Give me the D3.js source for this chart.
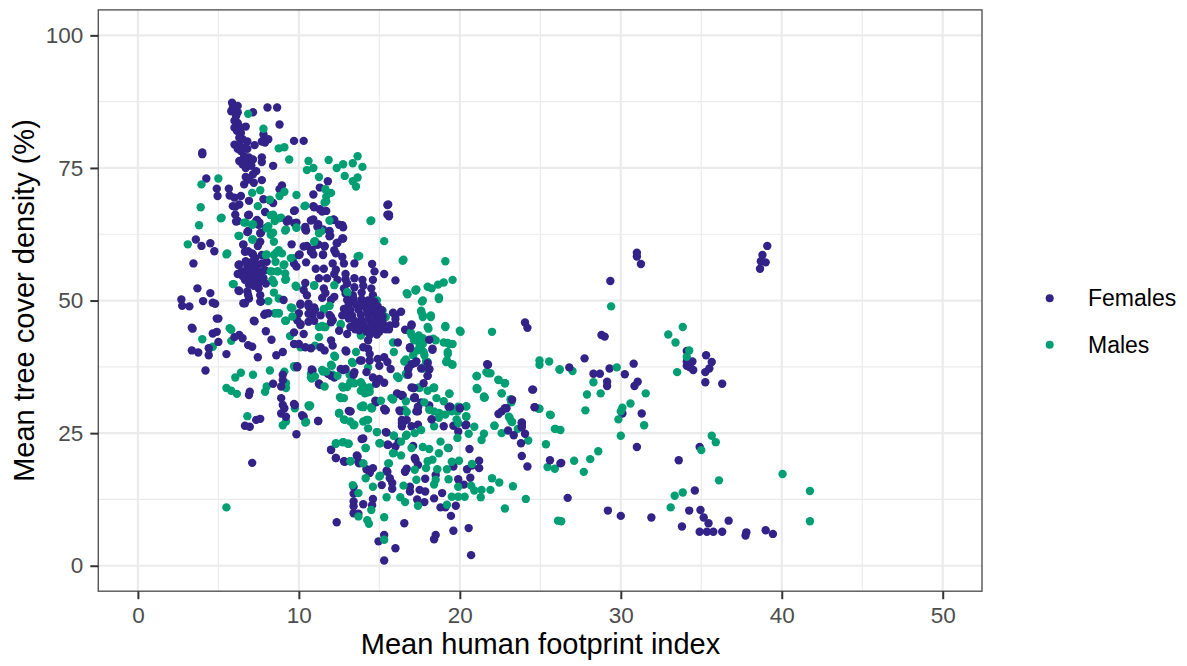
<!DOCTYPE html>
<html><head><meta charset="utf-8">
<script src="https://cdn.jsdelivr.net/npm/d3@7"></script>
<style>html,body{margin:0;padding:0;background:#fff}svg{display:block}text{font-family:"Liberation Sans",Arial,sans-serif}</style>
</head><body><svg id="c" width="1187" height="666"></svg>
<script>
const xTicks=[0,10,20,30,40,50], yTicks=[0,25,50,75,100];
const xMinor=[5,15,25,35,45], yMinor=[12.5,37.5,62.5,87.5];
const legendLabels=["Females","Males"];
const xTitle="Mean human footprint index", yTitle="Mean tree cover density (%)";
const females=[[5.85,87.3],[6.2,86.7],[5.9,86.4],[6,85.7],[5.8,85.7],[6.2,85.5],[6.1,84.8],[6,83.9],[6.2,83.5],[6.3,82.8],[6.7,82.8],[6,82.6],[6.15,82],[6.4,81.6],[6.3,80.7],[6.5,80.4],[6,79.4],[6.3,79.4],[6.8,80],[6.2,78.6],[6.5,78.8],[6.4,78.2],[6.8,78.6],[7.25,79.3],[6.9,77],[6.6,77.2],[6.3,76.3],[6.5,75.7],[6.8,76.3],[7.15,76.6],[6.7,75],[7.05,75.4],[7.35,74.4],[7.15,73.8],[6.7,73.3],[6.9,72.8],[6.6,71.9],[7.2,72.2],[7.7,77],[7.7,76.1],[8.4,75.4],[7.7,72.7],[8.05,86.4],[8.65,86.4],[7.15,85.5],[8.8,83.2],[9.7,80.1],[10.3,80.1],[7.8,81.3],[8.1,80.4],[7.9,79.8],[7.7,80],[4,77.6],[4,77.9],[4.25,73],[4.9,71.1],[4.95,69.7],[5.65,71.1],[5.7,69.8],[6,69.4],[6.4,69.7],[6.9,68.8],[5.9,67.8],[6.3,68.1],[6.05,66.2],[6.2,65],[6.9,66.2],[7.35,65],[7.9,66.7],[7.8,69.1],[8.2,68.9],[8.4,68.4],[8.95,71.7],[8.8,71],[9.75,67],[11.8,72.5],[11.3,71.3],[10.9,70],[10.9,67.8],[11.3,67.2],[11.7,66.9],[12.15,65.3],[12.7,64.2],[15.55,68.1],[15.6,66.2],[15.6,65.9],[9.35,65.3],[9.85,64.7],[10.4,63.4],[10.9,65.3],[11.2,64.4],[11.5,63.4],[11.9,63.1],[11.95,62.2],[12.75,61.7],[12.35,60.8],[11.2,60.6],[10.5,60.3],[10.8,59.6],[10.9,58.7],[11.6,60.3],[11.5,58.7],[10.05,58.7],[9.55,60.6],[7.55,64.7],[7.95,63.7],[7.65,62.8],[6.85,63.1],[7.45,60.3],[6.55,60.6],[3.6,61.5],[3.95,60.3],[4.5,60.8],[4.75,59.3],[3.45,57],[6.3,56.8],[6.85,59.3],[7.15,58.7],[7.25,57.1],
[6.05,67.7],[6.85,66.1],[6.1,64.9],[7.4,65.2],[7.5,64.3],[6.8,62.9],[7.6,62.7],[7.6,61.1],[6.55,60.5],[6.65,59.2],[7.1,58.9],[7.7,58.6],[6.25,56.7],[6.45,55.5],[6.8,56.4],[7.1,57.3],[7.4,56.7],[7.7,57],[6.9,55.1],[7.3,55.5],[7.7,55.5],[6.65,53.9],[7.1,53.9],[7.5,53.3],[7.8,54.2],[6.25,51.9],[6.8,51.7],[6.9,50.4],[6.55,49.5],[7.6,51],[7.6,49.8],[7,54.8],[6.6,55],[7.45,54.5],[7.2,52.8],[6.9,53],[6.7,57.4],[7.3,58],[7.9,55.7],[8,57.3],[6.5,54.6],[6.2,55],[7.1,56.1],[7.5,52.3],[7.95,53.2],[9.7,66.9],[9.25,64.9],[9.7,64.6],[10.4,63.9],[10.45,63.2],[10.95,67.6],[11.45,66.8],[12.2,65.2],[12.5,64.3],[12.75,63.8],[10.75,65.1],[11.15,63.9],[11.9,63],[11.9,62.1],[12.7,61.7],[12.4,60.9],[12.2,59.5],[12.3,58.9],[10.3,60.2],[10.75,59.2],[11.15,60.5],[11.6,60.2],[11.5,58.6],[10,58.6],[10.45,57.2],[9.7,57],[9.85,56.4],[11.05,56],[11.55,56],[12.1,57],[12.7,58.2],[12.3,55.8],[12.8,57],[13.45,57],[14.55,56.9],[12.9,55],[11.25,54.2],[11.75,54.2],[12.4,53.9],[13.45,54.2],[13.95,53.9],[14.7,55.5],[15.3,55],[14.6,53.9],[16,53.8],[10.4,53.3],[10.3,52],[10.5,51],[11.55,52.3],[11.65,51.4],[11.45,50.5],[12.2,50.7],[12,50.1],[12.8,52.3],[13.45,52.5],[13.35,51],[14.5,52.3],[14.6,51],[9.05,50.1],[10.1,49.2],[10.6,48.9],[11,48.2],[10,47.6],[9.9,46.3],[10.1,45.4],[10.85,47.3],[10.6,46],[11.9,47.3],[12.1,46.3],[7.9,47.5],[7.2,46.2],[5,46.6],[15.5,68],[15.5,66.2],[16,46.5],[15.65,45.3],[16.6,44.5],[12.9,54],[13,53.2],[12.2,55],[12.9,51.3],[14,52.8],[13.9,51.5],
[3.7,52.3],[4.5,51.4],[2.7,50.2],[4.05,49.9],[2.75,49],[3.2,48.9],[4.65,49.6],[4.8,49.4],[4.9,46.6],[3.35,44.9],[3.4,44.7],[4.65,43.8],[4.9,44.1],[5,42.2],[3.35,40.6],[3.75,40.2],[4.4,41],[4.4,39.7],[5.5,39.9],[6.3,43.5],[6,43.1],[6.5,42.9],[6.85,41.6],[7.1,41.3],[7.45,39.3],[4.2,36.8],[7.95,44.2],[8.3,42.6],[8.6,39.7],[9,40.3],[7.25,46.1],[7.85,47.3],[8.1,47.6],[6.65,49.5],[6.85,51],[6.3,51.8],[7.65,49.8],[9,36],[9,35],[8.9,33.8],[8.4,34.3],[6.95,32.8],[6.9,32.2],[8.9,31.6],[9,30.3],[9.1,29.7],[9.75,30.3],[8.9,28.7],[9.2,28.1],[10.25,28.2],[11.2,27.3],[6.65,26.4],[6.95,26.2],[7.35,27.5],[7.6,27.7],[9.85,24.8],[7.1,19.4],[9.9,37.4],[10.85,36.8],[11.3,34.1],[12.95,40.4],[12.75,36.9],[12,35.8],[13.4,36],[13.9,38.7],[14.85,35],[15.3,34.5],[13.2,29.1],[14.8,30.8],[15.4,29.3],[14,24],[15.45,25.1],[15.55,22.8],[12,21.8],[12.3,20.3],[12.85,19.6],[13.65,20.6],[13.75,19.3],[14.45,18],[15.5,17.7],[16.6,17.7],[17.25,20],[16.4,26.9],
[10.1,49.4],[10.6,49.4],[10.95,48.7],[10.6,47.5],[10.1,45.6],[9.7,44],[10.3,43.7],[10.95,46.2],[11.35,47.2],[12,46.9],[12,45.9],[12.8,48.4],[12.7,47.2],[12.5,44.3],[13,43.7],[13.2,45],[12,42.5],[12.1,41.5],[11.35,41.2],[11.6,40.6],[10.75,41],[10.4,41.2],[10,41.8],[9.7,41.8],[12.9,40.6],[14.3,42.5],[14.3,40.9],[14,41.2],[14.4,39.9],[13.8,38.7],[14.4,38.7],[14.9,39],[15.3,39.3],[15.5,38.4],[15.7,37.1],[15,37.7],[14.2,36.5],[14.6,35.5],[15,35.2],[14.8,34.3],[12.6,37.1],[12.9,37.1],[11.8,36.2],[12.2,35.5],[13.45,36.5],[10.8,37],[9.9,37.6],[11.25,34.3],[15.6,44.6],[15.4,44.6],[16,47.2],[16.35,47.9],[16,45.6],[17,45.5],[16.15,42.1],[16.9,41.2],[18.3,40.9],[17.3,38.5],[17,38],[16.8,37.1],[18,35.8],[21.7,38],[18.1,37.1],[16.15,32.4],[16.45,32.1],[17,33.6],[17.2,31.8],[17.6,30.8],[17.4,29.9],[18.1,30.2],[19.4,29.6],[20,29.9],[14.75,31.1],[15.3,29.6],[13.1,29.2],[10.2,28.4],[9.7,30.5],[16.25,29.3],
[11.25,34.3],[10.3,28.1],[11.2,27.3],[13.2,29.1],[14.8,31],[15.35,29.3],[16.3,29.1],[16.1,32.5],[16.4,32],[17.1,33.5],[17.2,31.6],[17.4,30],[17.4,29.1],[18.25,27.6],[16.4,27.5],[16.7,27.5],[16.4,26.3],[17,26.3],[17.4,26.6],[19,26.3],[19.6,26.4],[20.4,26.6],[19.9,25.3],[19.3,30],[20,29.7],[15.4,25.2],[13.9,23.9],[15.5,22.8],[16.2,23.4],[16,22.5],[12,21.9],[12.3,20.3],[12.8,19.7],[13.6,20.8],[13.7,19.5],[14.2,18.2],[14.6,18.4],[14.4,17.5],[15.45,17.9],[15.65,16.5],[15.8,15.6],[15.8,14.5],[15.15,15.2],[17.2,20.3],[17.4,19],[16.7,18.3],[16.6,17.8],[17.1,22.6],[19.3,22.2],[20.6,22],[19.6,18.7],[20.45,18.2],[20.75,18.9],[21.2,19.8],[21.2,18.4],[20.65,16.6],[19.9,16.3],[20.25,15.3],[18.5,17.1],[17.85,16.4],[16.9,14.9],[16.9,14],[17.5,14.3],[17.85,14],[18.9,13.7],[18.4,12.7],[17.35,12.5],[17.8,12],[18.8,11],[19.1,11],[19.75,11.3],[19.45,9.4],[13.4,14.9],[13.4,13.6],[13.4,12.1],[13.4,11.2],[13.4,9.9],[13.7,9.8],[14,11.6],[14.6,12.6],[14.55,11.4],[12.35,8.2],[16.55,8],[15.3,5.8],[14.95,4.6],[16,3.3],[15.3,1],[18.5,5.8],[18.4,5],[19.6,6.6],[20.55,7.1],[20.7,2],[24.5,33.2],[24.65,29.9],[22.8,29.7],[22.6,29.1],[22.4,28.6],[23.25,31.3],[23.85,27],[23.85,26.3],[23,25.5],[23.35,24.6],[24.05,24.9],[23.8,23.1],[23.85,20.7],[24.2,18.7],[25.6,19.9],[26.25,19.3],
[24.05,45.85],[24.2,44.85],[21.75,37.9],[24.55,33.2],[24.65,29.9],[23.85,26.9],[23.85,26.1],[22.9,29.7],[26.8,37.4],[17,45.3],[15.85,47.7],[16.9,41],[18.3,40.7],[18.1,42.6],[17.2,38.2],[18,38.2],[17.6,37.2],[18.1,37],[16.8,37.2],[18,35.8],[16.8,36],[17.15,33.5],[16.4,32.2],[17.15,31.6],[17.75,34.4],[18.25,27.6],[19.4,30],[20,29.7],[20.35,26.5],[17.3,29.1],[16.45,26.9],
[31,59],[31,58.3],[31.25,56.9],[39.1,60.3],[38.8,58.6],[38.7,57.4],[39,57.2],[38.65,56],[29.35,53.7],[28.8,43.5],[29,43.2],[27.75,39.1],[28.3,36.2],[28.7,36.2],[29.3,37.2],[30.8,38.1],[30.25,36.1],[31.05,34.7],[30.85,33.9],[29.15,34.7],[29.15,33.9],[30.1,28.7],[31.3,28.7],[31,22.4],[34.1,40.5],[35.3,39.7],[35.65,38.4],[34.1,38.5],[34.45,38.5],[34.1,37.7],[34.3,37.4],[34.5,36.9],[35.5,37.2],[35.25,36.5],[35.25,34.6],[36.3,34.3],[34.9,22.4],[33.6,19.9],[34.6,14.2],[34.25,10.4],[34.95,10.5],[35.15,9.1],[35.45,8],[36.7,8.5],[33.8,7.4],[34.9,6.4],[35.35,6.4],[35.75,6.4],[36.3,6.4],[37.8,6.3],[37.75,5.7],[39,6.7],[39.45,6],[29.2,10.4],[30,9.4],[31.9,9.1],[26.7,12.8],[26.3,19.4],
[13,50.1],[13.4,50.3],[13.9,50.2],[14.3,50],[14.7,49.8],[13.1,49.2],[13.55,49.3],[14,49.1],[14.45,49.3],[14.9,48.9],[15.15,48.2],[13.2,48.2],[13.7,48.3],[14.2,48.4],[14.6,48.2],[15,47.8],[13.3,47.2],[13.85,47.3],[14.3,47.4],[14.75,47.2],[15.2,47],[13.45,46.2],[13.9,46.3],[14.35,46.4],[14.8,46.2],[15.2,46],[13.6,45.3],[14.05,45.2],[14.5,45.4],[14.95,45.1],[15.3,45.2],[13.75,44.4],[14.2,44.2],[14.6,44.4],[15,44.1],[14.4,43.5],[14.85,43.6],[13.5,44.6],[13.1,46.6],[12.95,47.6]];
const males=[[5.95,53.1],[5.8,44.5],[4,42.7],[5.8,42.4],[4.65,41.3],[4.45,41],[8.5,47.6],[8.75,47.6],[9.2,46.2],[9.6,48.6],[9.45,43.3],[6.4,36.4],[6.05,35.5],[7.15,36],[8.2,36.8],[9.1,36.6],[9.75,37.4],[5.5,33.5],[5.8,33],[6.15,32.4],[7.9,32.8],[8,33.8],[9.2,34.4],[9.2,33.5],[9.75,29.7],[10.65,30],[6.8,28.2],[9,26.5],[9.2,27.2],[10.4,27],[10.8,36.3],[10.8,35.3],[11.5,36.6],[12.2,35.8],[12.05,37.7],[12.25,39.4],[13.35,38.2],[12.75,33.6],[13.25,34.4],[12.6,31.6],[12.5,28.7],[12.85,27.5],[13.4,26.5],[13.9,30],[14.55,29.7],[14.2,27.5],[14.85,25.2],[15.85,31.4],[15.9,24.5],[15,23.1],[12.3,23.1],[12.75,23.3],[13.1,23],[14.15,22.2],[15.6,19.3],[15.9,21.3],[14,19.3],[13.2,19.7],[15,16.8],[5.5,11],
[6.85,85.2],[7.8,82.4],[8.75,78.7],[9.1,78.9],[9.4,76.6],[10.6,76.3],[10.5,74.6],[10.9,75],[11.85,76.5],[12.35,75],[12.75,75.7],[13.35,75.9],[13.65,77.2],[13.95,75.2],[12.85,73.5],[11.25,73.3],[13.65,73.2],[13.35,72.5],[13.55,71.5],[12,70.3],[11.65,71],[11.7,69.6],[11.7,68.7],[9.85,69.9],[9.1,70.5],[8.8,69.7],[10.4,67.9],[5,73],[3.95,71.9],[3.9,67.6],[5.2,65.6],[3.8,64.2],[3.1,60.6],[5.55,58.9],[6.3,62.2],[7.15,61.5],[14.5,65.1],[15.3,61.2],[16.5,57.7],[13.75,58.4],[11.95,65.1],[17.3,52.1],[9.85,52.6],[8.45,53.3],[10.95,52.8],[7.1,70.3],[7.6,70.8],[8.2,69],[7.45,67.8],[8.4,66.2],[8.9,65.6],[8.5,65],[6.7,64.7],[7.15,64.4],[8.1,64],[8.4,62.8],[9.2,63.4],[9.85,63.7],[9.65,58],[8.6,59],[8,58.7],[9.1,56.8],[8.7,55.5],[8.3,55.5],[9.2,54],[11,61.2],[11.4,63.1],
[5.15,65.5],[10.35,67.8],[11.6,68.5],[14.45,65],[13.65,58.3],[11.9,65.1],[8.25,66.1],[8.75,65.5],[6.6,64.7],[7.1,64.3],[8,63.6],[8.25,62.4],[8.45,61.1],[6.25,62.2],[7.1,61.5],[5.5,58.7],[9.15,63.2],[9.85,63.8],[10.95,61.1],[11.25,62.7],[8.75,59.5],[8.45,58.6],[8.95,58.9],[7.95,58.6],[8.55,57.3],[9.5,58],[9.05,56.7],[8.25,55.5],[8.65,55.5],[9.15,55.1],[8.35,53.9],[9.15,53.9],[5.9,53.1],[9.8,52.8],[10.95,52.9],[8.45,51.5],[8.75,50.4],[8.1,49.9],[12.2,52.9],[13,51.2],[9.5,48.7],[11.9,49],[11.55,48.3],[8.55,47.6],[8.75,47.6],[9.15,46.2],[9.6,47],[11.25,45],[11.55,45],[12.6,45.4],[5.7,44.8],[16.75,51.2],
[16.7,51.4],[17.25,52],[18.7,50.6],[17.7,50],[17.6,48.1],[17.7,47.2],[18.2,47.2],[19.1,45.2],[20,44.3],[18,45],[16.95,44],[17.45,43.4],[18.35,42.8],[17.15,42.5],[17.7,41.8],[19,42.1],[19.25,42],[17.35,40.6],[17.75,40.3],[15.85,42.1],[15.9,40.3],[19.25,40.3],[19.5,38],[19.2,38.7],[18,38.4],[16.65,38.9],[17.7,37.4],[16.65,36.2],[16.1,35.7],[21.05,35.8],[21.65,36.5],[21.05,33.5],[21.5,31.9],[18.4,33.6],[17.45,33.6],[18,33],[9.7,37.6],[11.45,36.9],[10.75,36.2],[10.75,35.5],[12,37.9],[12.2,39.6],[13.3,38.4],[14.3,37.4],[12.1,36],[13.15,36],[13.2,34.6],[12.7,33.8],[13.85,34.6],[14.2,33.3],[13.85,33],[14.4,33.6],[14.3,32.7],[12.55,31.8],[15.75,31.6],[14.5,29.9],[13.85,30],[14,30.2],[10.6,30.2],[12.5,28.8],[16.55,29.4],[11,41.5],[11.25,43.1],[11.45,45.2],[11.65,45],[12.6,45.6],[13.85,43.4],[13.55,40.3],[11.55,48.4],[11.9,49],[13,51.6],[14.85,50],[15.4,46.9],[15.2,48.1],[10.1,41.2],
[16.45,57.5],[19.1,57.4],[19.55,53.9],[19,53.4],[18.65,53],[18.25,52.3],[18,52.6],[17.25,51.9],[18.7,50.3],[17.65,49.8],[17.6,47.9],[17.7,46.9],[18.2,46.9],[18.05,44.7],[19.1,45],[20.05,44.1],[22,44.1],[19.35,41.8],[19.55,41.8],[19.25,39.9],[19.15,38.4],[19.55,37.9],[17.5,43],[17,43.5],[17.7,42.9],[18.5,42.5],[17.5,41.6],[17.5,40.7],[17.8,39.7],[17.1,39.7],[16.55,38.5],[17.9,38.5],[17.75,37.2],[21.05,35.7],[21.75,36.3],[22.4,35],[22.8,34.4],[21.1,33.3],[21.5,31.7],[22.6,32.5],[23.2,30.8],[24.95,38.7],[24.95,37.9],[25.55,38.5],[26.2,37],[27,36.7],[24.95,29.6],[25.65,28.4],[23.1,27.8],[23.2,27.2],[25.95,25.8],[22.15,26.4],[20.9,26.2],[20.4,30],[20.4,28.1],[19.9,30],[19.5,29.1],[18.75,28.7],[18.35,33.5],[19.35,32.5],
[10.7,30.2],[10.45,27.1],[11,35.7],[11.6,33.8],[11.7,36.6],[12.4,35.8],[13,33.7],[13.45,34.4],[12.8,31.6],[13.95,34.1],[14.3,33.5],[14.1,32.5],[14.4,32.8],[12.5,28.8],[12.8,27.6],[13.2,27.2],[13.45,26.6],[14,29.9],[14.5,29.7],[14,27.2],[14.3,27.5],[14.3,25.9],[15.1,31.1],[14.85,25.2],[16.2,35.4],[16.7,36],[15.85,31.4],[16.65,31],[17.5,33.5],[18.4,33.5],[19.35,32.4],[18.55,31.6],[17.8,30.8],[19,31],[16.7,29],[18.1,29.4],[18.4,29.1],[18.7,28.8],[18.7,27.9],[19.1,28.5],[19.45,29.8],[19.85,29.1],[20.4,30.1],[20.4,28.2],[19.8,27.6],[19.9,26.9],[18.4,26.3],[17.6,25.6],[17.2,25],[16.7,24.7],[16.35,23.4],[21.05,35.8],[21.9,36.3],[22.4,35.1],[22.8,34.4],[21.05,33.3],[21.55,31.7],[22.6,32.5],[23.15,31.4],[22.15,26.4],[23.05,28.1],[23.25,27.1],[22.6,25],[21.5,24.9],[21.35,23.7],[20.55,24.9],[19.85,24.1],[23.6,25.8],[24.25,23.6],[24.9,29.6],[25.6,28.5],[25.9,25.8],[25.35,22.9],[25.45,18.6],[25.9,18.3],[12.3,23],[12.75,23.3],[13.05,23],[14.15,22.2],[15.05,23.1],[15.9,24.5],[16.65,24.5],[15.85,21.2],[16.35,20.8],[17,22.2],[17.7,22.4],[18.1,22],[18.8,23.4],[18.7,21.2],[19.25,22.2],[15.55,19.3],[14,19.3],[13.2,19.7],[14.15,16.5],[15.05,17],[14.6,14.9],[13.35,15.2],[13.7,13.7],[15.45,12.9],[16.3,12.9],[16.6,12],[16.5,15.1],[17.2,18.1],[17.3,16.2],[18.4,15.3],[18.5,16.2],[18,19.7],[18.3,20],[17.9,18.4],[18.6,18.2],[19.2,18.2],[19.3,16.3],[19.95,19.8],[19.5,19.6],[20.75,19.2],[19.9,14.9],[20.7,15.1],[20.9,14.2],[21.35,14.3],[21.9,14.3],[22,16.5],[22.45,15.7],[23.3,15],[24.1,12.6],[22.8,10.8],[21.3,12.9],[19.5,13],[19.9,13],[20.3,13],[17.4,11.3],[19.2,11.5],[14.5,10.5],[13.7,9.3],[14.25,8.6],[14.35,7.9],[15.3,9.15],[15.3,4.9],[26.1,8.5],
[29.4,48.9],[33.85,45],[32.95,43.6],[33.4,42.1],[34.25,40.6],[34.1,39.4],[33.5,36.5],[29.75,37.4],[26.2,37],[28.3,34.6],[27.9,32.3],[28.75,32.5],[31.55,32.5],[27.8,29.3],[30.6,30.6],[30.1,29.8],[30,29.1],[29.85,27.6],[31.45,26.5],[30,24.5],[28.6,21.6],[28.1,20.1],[27.1,19.8],[27.7,17.7],[35.65,24.5],[35.9,23.3],[35,21.8],[36.1,16.1],[40.05,17.3],[41.75,14.1],[41.75,8.4],[33.85,13.8],[33.35,13.2],[33.1,11],[26.3,8.4],[26.25,25.6]];

const x=d3.scaleLinear().domain([-2.46,52.44]).range([98.3,982]);
const y=d3.scaleLinear().domain([-4.8,104.8]).range([591.2,9.9]);
const svg=d3.select("#c");
const grid=svg.append("g");
const GRID="#ebebeb";
grid.selectAll(".vm").data(xMinor).join("line").attr("x1",d=>x(d)).attr("x2",d=>x(d)).attr("y1",y.range()[0]).attr("y2",y.range()[1]).attr("stroke",GRID).attr("stroke-width",1.2);
grid.selectAll(".hm").data(yMinor).join("line").attr("y1",d=>y(d)).attr("y2",d=>y(d)).attr("x1",x.range()[0]).attr("x2",x.range()[1]).attr("stroke",GRID).attr("stroke-width",1.2);
grid.selectAll(".vM").data(xTicks).join("line").attr("x1",d=>x(d)).attr("x2",d=>x(d)).attr("y1",y.range()[0]).attr("y2",y.range()[1]).attr("stroke",GRID).attr("stroke-width",2.2);
grid.selectAll(".hM").data(yTicks).join("line").attr("y1",d=>y(d)).attr("y2",d=>y(d)).attr("x1",x.range()[0]).attr("x2",x.range()[1]).attr("stroke",GRID).attr("stroke-width",2.2);

// interleave both series so the draw order mixes the colours as in the original
const COL={f:"#332288",m:"#009E73"};
const merged=[];
females.forEach((d,i)=>merged.push({d,s:"f",o:i/females.length}));
males.forEach((d,i)=>merged.push({d,s:"m",o:i/males.length}));
merged.sort((a,b)=>a.o-b.o);
svg.append("g").selectAll("circle").data(merged).join("circle")
 .attr("cx",p=>x(p.d[0])).attr("cy",p=>y(p.d[1])).attr("r",4.2).attr("fill",p=>COL[p.s]);

svg.append("rect").attr("x",98.3).attr("y",9.9).attr("width",982-98.3).attr("height",591.2-9.9).attr("fill","none").attr("stroke","#555").attr("stroke-width",1.4);

const ax=svg.append("g").attr("transform","translate(0,591.2)").call(d3.axisBottom(x).tickValues(xTicks).tickSize(8).tickPadding(7.5));
const ay=svg.append("g").attr("transform","translate(98.3,0)").call(d3.axisLeft(y).tickValues(yTicks).tickSize(8).tickPadding(7));
[ax,ay].forEach(a=>{a.select(".domain").remove();a.selectAll("line").attr("stroke","#333").attr("stroke-width",2);a.selectAll("text").attr("fill","#4d4d4d").style("font-size","22.5px").style("font-family",'"Liberation Sans",Arial,sans-serif');});

svg.append("text").attr("x",540.5).attr("y",654).attr("text-anchor","middle").attr("font-size","29px").attr("fill","#000").text(xTitle);
svg.append("text").attr("transform","translate(33.5,300.5) rotate(-90)").attr("text-anchor","middle").attr("font-size","29px").attr("fill","#000").text(yTitle);

const leg=svg.append("g");
legendLabels.forEach((t,i)=>{
 const yy=298.3+i*46.4;
 leg.append("circle").attr("cx",1049.7).attr("cy",yy).attr("r",4).attr("fill",i?COL.m:COL.f);
 leg.append("text").attr("x",1088).attr("y",yy+7.8).attr("font-size","23px").attr("fill","#000").text(t);
});
</script></body></html>
